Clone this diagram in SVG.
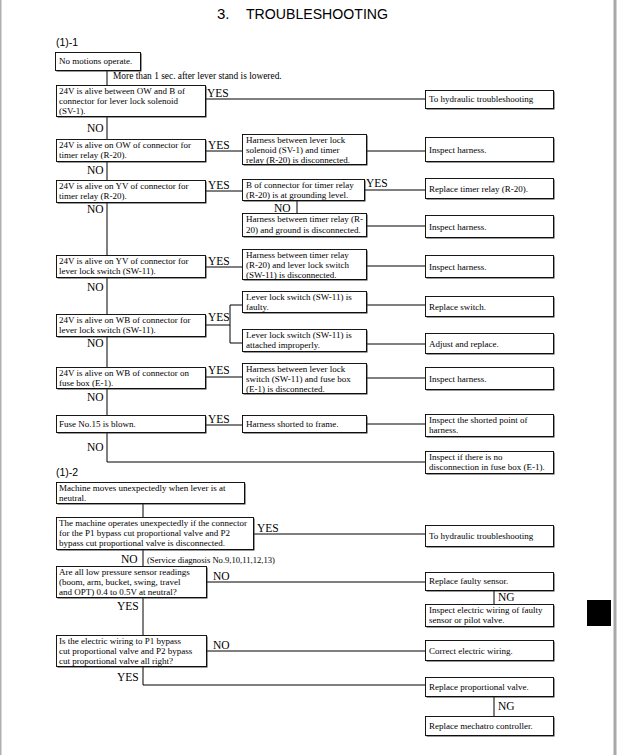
<svg xmlns="http://www.w3.org/2000/svg" width="618" height="755" viewBox="0 0 618 755">
<style>
  .bg{fill:#ffffff}
  .sh{fill:#333333}
  .bx{fill:#ffffff;stroke:#000000;stroke-width:0.9}
  .t{font-family:"Liberation Serif","Times New Roman",serif;font-size:9px;fill:#000000}
  .lb{font-family:"Liberation Serif","Times New Roman",serif;font-size:11.5px;fill:#000000}
  .sm{font-family:"Liberation Serif","Times New Roman",serif;font-size:9.4px;fill:#000000}
  .sd{font-family:"Liberation Serif","Times New Roman",serif;font-size:8.6px;fill:#000000}
  .hd{font-family:"Liberation Sans",Arial,sans-serif;font-size:10.5px;fill:#000000}
  .ti{font-family:"Liberation Sans",Arial,sans-serif;font-size:15px;fill:#000000}
  .ln{fill:none;stroke:#000000;stroke-width:1}
</style>
<rect class="bg" x="0" y="0" width="618" height="755"/>
<rect x="0" y="0" width="1.5" height="755" fill="#b0b0b0"/>
<rect x="613.5" y="0" width="3" height="755" fill="#a8a8a8"/>
<rect x="587" y="600" width="24" height="26" fill="#000000"/>

<text class="ti" x="217" y="19">3.</text>
<text class="ti" x="246" y="19" textLength="142" lengthAdjust="spacingAndGlyphs">TROUBLESHOOTING</text>
<text class="hd" x="56" y="46">(1)-1</text>
<text class="hd" x="56" y="476">(1)-2</text>

<g id="connectors">
  <path class="ln" d="M107,70 V85"/>
  <path class="ln" d="M205,99 H425"/>
  <path class="ln" d="M107,117 V139"/>
  <path class="ln" d="M205,151 H242 M366,151 H425"/>
  <path class="ln" d="M107,162 V180"/>
  <path class="ln" d="M205,191 H242 M364,190 H425"/>
  <path class="ln" d="M297,201 V213"/>
  <path class="ln" d="M366,226 H425"/>
  <path class="ln" d="M107,203 V256"/>
  <path class="ln" d="M205,267 H242 M366,266 H425"/>
  <path class="ln" d="M107,278 V314"/>
  <path class="ln" d="M366,305 H425"/>
  <path class="ln" d="M205,325 H230 M230,305 V343 M230,305 H242 M230,343 H242"/>
  <path class="ln" d="M366,344 H425"/>
  <path class="ln" d="M107,337 V367"/>
  <path class="ln" d="M205,377 H242 M366,378 H425"/>
  <path class="ln" d="M107,388 V415"/>
  <path class="ln" d="M205,425 H242 M366,424 H425"/>
  <path class="ln" d="M107,433 V462 H425"/>
  <path class="ln" d="M143,504 V517"/>
  <path class="ln" d="M253,534 H425"/>
  <path class="ln" d="M143,550 V566"/>
  <path class="ln" d="M206,582 H425"/>
  <path class="ln" d="M494,590 V604"/>
  <path class="ln" d="M143,598 V635"/>
  <path class="ln" d="M206,651 H425"/>
  <path class="ln" d="M143,667 V685 H425"/>
  <path class="ln" d="M494,697 V716"/>
</g>

<g id="labels">
  <text class="sm" x="113" y="79">More than 1 sec. after lever stand is lowered.</text>
  <text class="lb" x="207" y="97">YES</text>
  <text class="lb" x="87" y="132">NO</text>
  <text class="lb" x="208" y="149">YES</text>
  <text class="lb" x="87" y="174">NO</text>
  <text class="lb" x="208" y="189">YES</text>
  <text class="lb" x="366" y="187">YES</text>
  <text class="lb" x="274" y="212">NO</text>
  <text class="lb" x="87" y="213">NO</text>
  <text class="lb" x="208" y="265">YES</text>
  <text class="lb" x="87" y="291">NO</text>
  <text class="lb" x="208" y="321">YES</text>
  <text class="lb" x="87" y="347">NO</text>
  <text class="lb" x="208" y="374">YES</text>
  <text class="lb" x="87" y="401">NO</text>
  <text class="lb" x="208" y="423">YES</text>
  <text class="lb" x="87" y="451">NO</text>
  <text class="lb" x="257" y="532">YES</text>
  <text class="lb" x="121" y="563">NO</text>
  <text class="sd" x="147" y="563">(Service diagnosis No.9,10,11,12,13)</text>
  <text class="lb" x="213" y="580">NO</text>
  <text class="lb" x="498" y="601">NG</text>
  <text class="lb" x="117" y="610">YES</text>
  <text class="lb" x="213" y="649">NO</text>
  <text class="lb" x="117" y="681">YES</text>
  <text class="lb" x="498" y="710">NG</text>
</g>

<g id="n0"><rect class="sh" x="56.5" y="53.5" width="85" height="18"/><rect class="bx" x="55.5" y="52.5" width="85" height="18"/><text class="t" x="59" y="64">No motions operate.</text></g>

<g id="q1"><rect class="sh" x="57.5" y="86.5" width="149" height="31"/><rect class="bx" x="56.5" y="85.5" width="149" height="31"/>
<text class="t" x="59" y="94">24V is alive between OW and B of</text><text class="t" x="59" y="104">connector for lever lock solenoid</text><text class="t" x="59" y="114">(SV-1).</text></g>
<g id="r1"><rect class="sh" x="426.5" y="91.5" width="128" height="18"/><rect class="bx" x="425.5" y="90.5" width="128" height="18"/><text class="t" x="429" y="102">To hydraulic troubleshooting</text></g>

<g id="q2"><rect class="sh" x="57.5" y="140.5" width="149" height="22"/><rect class="bx" x="56.5" y="139.5" width="149" height="22"/>
<text class="t" x="59" y="148">24V is alive on OW of connector for</text><text class="t" x="59" y="158">timer relay (R-20).</text></g>
<g id="c2"><rect class="sh" x="243.5" y="135.5" width="124" height="30"/><rect class="bx" x="242.5" y="134.5" width="124" height="30"/>
<text class="t" x="246" y="143">Harness between lever lock</text><text class="t" x="246" y="153">solenoid (SV-1) and timer</text><text class="t" x="246" y="163">relay (R-20) is disconnected.</text></g>
<g id="r2"><rect class="sh" x="426.5" y="138.5" width="128" height="24"/><rect class="bx" x="425.5" y="137.5" width="128" height="24"/><text class="t" x="429" y="153">Inspect harness.</text></g>

<g id="q3"><rect class="sh" x="57.5" y="181.5" width="149" height="22"/><rect class="bx" x="56.5" y="180.5" width="149" height="22"/>
<text class="t" x="59" y="189">24V is alive on YV of connector for</text><text class="t" x="59" y="199">timer relay (R-20).</text></g>
<g id="c3"><rect class="sh" x="243.5" y="180.5" width="122" height="21"/><rect class="bx" x="242.5" y="179.5" width="122" height="21"/>
<text class="t" x="246" y="188">B of connector for timer relay</text><text class="t" x="246" y="198">(R-20) is at grounding level.</text></g>
<g id="r3"><rect class="sh" x="426.5" y="179.5" width="128" height="20"/><rect class="bx" x="425.5" y="178.5" width="128" height="20"/><text class="t" x="429" y="192">Replace timer relay (R-20).</text></g>
<g id="c3b"><rect class="sh" x="243.5" y="214.5" width="124" height="23"/><rect class="bx" x="242.5" y="213.5" width="124" height="23"/>
<text class="t" x="246" y="222">Harness between timer relay (R-</text><text class="t" x="246" y="233">20) and ground is disconnected.</text></g>
<g id="r3b"><rect class="sh" x="426.5" y="216.5" width="128" height="22"/><rect class="bx" x="425.5" y="215.5" width="128" height="22"/><text class="t" x="429" y="230">Inspect harness.</text></g>

<g id="q4"><rect class="sh" x="57.5" y="256.5" width="149" height="22"/><rect class="bx" x="56.5" y="255.5" width="149" height="22"/>
<text class="t" x="59" y="264">24V is alive on YV of connector for</text><text class="t" x="59" y="274">lever lock switch (SW-11).</text></g>
<g id="c4"><rect class="sh" x="243.5" y="250.5" width="124" height="30"/><rect class="bx" x="242.5" y="249.5" width="124" height="30"/>
<text class="t" x="246" y="258">Harness between timer relay</text><text class="t" x="246" y="268">(R-20) and lever lock switch</text><text class="t" x="246" y="278">(SW-11) is disconnected.</text></g>
<g id="r4"><rect class="sh" x="426.5" y="256.5" width="128" height="22"/><rect class="bx" x="425.5" y="255.5" width="128" height="22"/><text class="t" x="429" y="270">Inspect harness.</text></g>

<g id="c5a"><rect class="sh" x="243.5" y="292.5" width="124" height="21"/><rect class="bx" x="242.5" y="291.5" width="124" height="21"/>
<text class="t" x="246" y="300">Lever lock switch (SW-11) is</text><text class="t" x="246" y="310">faulty.</text></g>
<g id="r5a"><rect class="sh" x="426.5" y="297.5" width="128" height="20"/><rect class="bx" x="425.5" y="296.5" width="128" height="20"/><text class="t" x="429" y="310">Replace switch.</text></g>
<g id="q5"><rect class="sh" x="57.5" y="315.5" width="149" height="22"/><rect class="bx" x="56.5" y="314.5" width="149" height="22"/>
<text class="t" x="59" y="323">24V is alive on WB of connector for</text><text class="t" x="59" y="333">lever lock switch (SW-11).</text></g>
<g id="c5b"><rect class="sh" x="243.5" y="330.5" width="124" height="22"/><rect class="bx" x="242.5" y="329.5" width="124" height="22"/>
<text class="t" x="246" y="338">Lever lock switch (SW-11) is</text><text class="t" x="246" y="348">attached improperly.</text></g>
<g id="r5b"><rect class="sh" x="426.5" y="334.5" width="128" height="20"/><rect class="bx" x="425.5" y="333.5" width="128" height="20"/><text class="t" x="429" y="347">Adjust and replace.</text></g>

<g id="q6"><rect class="sh" x="57.5" y="368.5" width="149" height="21"/><rect class="bx" x="56.5" y="367.5" width="149" height="21"/>
<text class="t" x="59" y="376">24V is alive on WB of connector on</text><text class="t" x="59" y="386">fuse box (E-1).</text></g>
<g id="c6"><rect class="sh" x="243.5" y="364.5" width="124" height="30"/><rect class="bx" x="242.5" y="363.5" width="124" height="30"/>
<text class="t" x="246" y="372">Harness between lever lock</text><text class="t" x="246" y="382">switch (SW-11) and fuse box</text><text class="t" x="246" y="392">(E-1) is disconnected.</text></g>
<g id="r6"><rect class="sh" x="426.5" y="368.5" width="128" height="22"/><rect class="bx" x="425.5" y="367.5" width="128" height="22"/><text class="t" x="429" y="382">Inspect harness.</text></g>

<g id="q7"><rect class="sh" x="57.5" y="416.5" width="149" height="17"/><rect class="bx" x="56.5" y="415.5" width="149" height="17"/><text class="t" x="59" y="427">Fuse No.15 is blown.</text></g>
<g id="c7"><rect class="sh" x="243.5" y="416.5" width="124" height="17"/><rect class="bx" x="242.5" y="415.5" width="124" height="17"/><text class="t" x="246" y="427">Harness shorted to frame.</text></g>
<g id="r7"><rect class="sh" x="426.5" y="415.5" width="128" height="22"/><rect class="bx" x="425.5" y="414.5" width="128" height="22"/>
<text class="t" x="429" y="423">Inspect the shorted point of</text><text class="t" x="429" y="433">harness.</text></g>
<g id="r8"><rect class="sh" x="426.5" y="452.5" width="128" height="22"/><rect class="bx" x="425.5" y="451.5" width="128" height="22"/>
<text class="t" x="429" y="460">Inspect if there is no</text><text class="t" x="429" y="470">disconnection in fuse box (E-1).</text></g>

<g id="p0"><rect class="sh" x="57.5" y="483.5" width="188" height="21"/><rect class="bx" x="56.5" y="482.5" width="188" height="21"/>
<text class="t" x="59" y="491">Machine moves unexpectedly when lever is at</text><text class="t" x="59" y="501">neutral.</text></g>
<g id="p1"><rect class="sh" x="57.5" y="518.5" width="197" height="32"/><rect class="bx" x="56.5" y="517.5" width="197" height="32"/>
<text class="t" x="59" y="526">The machine operates unexpectedly if the connector</text><text class="t" x="59" y="536">for the P1 bypass cut proportional valve and P2</text><text class="t" x="59" y="546">bypass cut proportional valve is disconnected.</text></g>
<g id="s1"><rect class="sh" x="426.5" y="526.5" width="128" height="21"/><rect class="bx" x="425.5" y="525.5" width="128" height="21"/><text class="t" x="429" y="539">To hydraulic troubleshooting</text></g>

<g id="p2"><rect class="sh" x="57.5" y="567.5" width="150" height="31"/><rect class="bx" x="56.5" y="566.5" width="150" height="31"/>
<text class="t" x="59" y="575">Are all low pressure sensor readings</text><text class="t" x="59" y="585">(boom, arm, bucket, swing, travel</text><text class="t" x="59" y="595">and OPT) 0.4 to 0.5V at neutral?</text></g>
<g id="s2"><rect class="sh" x="426.5" y="573.5" width="128" height="18"/><rect class="bx" x="425.5" y="572.5" width="128" height="18"/><text class="t" x="429" y="584">Replace faulty sensor.</text></g>
<g id="s3"><rect class="sh" x="426.5" y="605.5" width="128" height="22"/><rect class="bx" x="425.5" y="604.5" width="128" height="22"/>
<text class="t" x="429" y="613">Inspect electric wiring of faulty</text><text class="t" x="429" y="623">sensor or pilot valve.</text></g>

<g id="p3"><rect class="sh" x="57.5" y="636.5" width="150" height="31"/><rect class="bx" x="56.5" y="635.5" width="150" height="31"/>
<text class="t" x="59" y="644">Is the electric wiring to P1 bypass</text><text class="t" x="59" y="654">cut proportional valve and P2 bypass</text><text class="t" x="59" y="664">cut proportional valve all right?</text></g>
<g id="s4"><rect class="sh" x="426.5" y="641.5" width="128" height="20"/><rect class="bx" x="425.5" y="640.5" width="128" height="20"/><text class="t" x="429" y="654">Correct electric wiring.</text></g>
<g id="s5"><rect class="sh" x="426.5" y="678.5" width="128" height="19"/><rect class="bx" x="425.5" y="677.5" width="128" height="19"/><text class="t" x="429" y="690">Replace proportional valve.</text></g>
<g id="s6"><rect class="sh" x="426.5" y="717.5" width="128" height="19"/><rect class="bx" x="425.5" y="716.5" width="128" height="19"/><text class="t" x="429" y="729">Replace mechatro controller.</text></g>
</svg>
